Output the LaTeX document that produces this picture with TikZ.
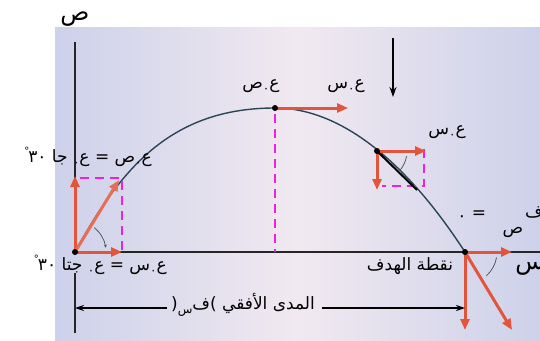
\documentclass[tikz,border=0pt]{standalone}
\usepackage{fontspec}
\TeXXeTstate=1
\newfontfamily\arabicfont[Script=Arabic]{DejaVu Sans}
\usetikzlibrary{arrows.meta,calc}
\definecolor{vred}{HTML}{E2553A}
\definecolor{dmag}{HTML}{EE22DD}
\definecolor{bgblue}{HTML}{CDD1EA}
\definecolor{bgpink}{HTML}{F1E9F0}
\definecolor{curvec}{HTML}{2A4656}
\newcommand{\lo}[1]{\raisebox{-4pt}{\fontsize{12}{12}\selectfont #1}}
\newcommand{\dg}{\raisebox{8pt}{\fontsize{10}{10}\selectfont °}\kern-1pt}
\begin{document}
\begin{tikzpicture}[x=1pt,y=-1pt,
 vec/.style={vred, line width=3pt, -{Triangle[length=11pt,width=9pt]}},
 dashm/.style={dmag, line width=2.2pt, dash pattern=on 9pt off 6pt},
 axisl/.style={draw=black!85, line width=1.5pt},
 curvel/.style={curvec, line width=1.4pt},
 angarc/.style={gray!70!black, line width=0.8pt},
 dotn/.style={circle, fill=black, inner sep=0pt, minimum size=6pt},
 lab/.style={font=\arabicfont\fontsize{17}{19}\selectfont, inner sep=1pt},
 biglab/.style={font=\arabicfont\fontsize{24}{24}\selectfont, inner sep=1pt},
 dimarrow/.style={black, line width=1.1pt, -{Stealth[length=9pt,width=6pt]}}]
\useasboundingbox (0,0) rectangle (540,340);
\fill[white] (0,0) rectangle (540,340);
\shade[left color=bgblue, right color=bgblue, middle color=bgpink] (55,27) rectangle (540,340);
% key points
\coordinate (L) at (75,252);
\coordinate (C1) at (120,170);
\coordinate (C2) at (170,108);
\coordinate (P) at (275,108);
\coordinate (M) at (377,151);
\coordinate (T) at (465,252);
% axes
\coordinate (ytop) at (75,42);
\coordinate (xend) at (545,252);
\draw[axisl] (L) -- (ytop);
\draw[axisl] (L) -- (xend);
\coordinate (e1) at (75,273);
\coordinate (e2) at (75,333);
\draw[axisl, line width=1.2pt] (e1) -- (e2);
% trajectory
\draw[curvel] (L) .. controls (C1) and (C2) .. (P) parabola (T);
% left vectors
\coordinate (Lup) at (75,176);
\coordinate (Lrt) at (122,252);
\coordinate (Ldg) at (119,180);
\coordinate (Lb1) at (80,178);
\coordinate (Lb2) at (122,178);
\coordinate (Lb3) at (122,250);
\draw[dashm] (Lb1) -- (Lb2) -- (Lb3);
\draw[vec] (L) -- (Lup);
\draw[vec] (L) -- (Lrt);
\draw[vec, vred!85] (L) -- (Ldg);
\draw[angarc, -{Stealth[length=3pt,width=3pt]}] ($(L)+(-52:31)$) arc[start angle=-52, end angle=-8, radius=31];
% peak
\coordinate (Prt) at (348,108);
\coordinate (Pbot) at (275,252);
\coordinate (Ptop) at (275,114);
\draw[dashm] (Ptop) -- (Pbot);
\draw[vec] (P) -- (Prt);
% middle
\coordinate (Mrt) at (426,151);
\coordinate (Mdn) at (377,190);
\coordinate (Mdg) at (417,190);
\coordinate (Mb1) at (424,149);
\coordinate (Mb2) at (424,186);
\coordinate (Mb3) at (382,186);
\draw[dashm] (Mb1) -- (Mb2) -- (Mb3);
\draw[vec] (M) -- (Mrt);
\draw[vec] (M) -- (Mdn);
\draw[black, line width=2pt] (M) -- (Mdg);
\draw[angarc] ($(M)+(10:30)$) arc[start angle=10, end angle=42, radius=30];
% target
\coordinate (Trt) at (512,252);
\coordinate (Tdn) at (465,330);
\coordinate (Tdg) at (512,330);
\draw[vec] (T) -- (Trt);
\draw[vec] (T) -- (Tdn);
\draw[vec] (T) -- (Tdg);
\draw[angarc] ($(T)+(10:32)$) arc[start angle=10, end angle=48, radius=32];
% dots
\node[dotn] (dL) at (L) {};
\node[dotn] (dP) at (P) {};
\node[dotn] (dM) at (M) {};
\node[dotn] (dT) at (T) {};
% gravity arrow
\coordinate (g1) at (393,38);
\coordinate (g2) at (393,97);
\draw[black, line width=1.6pt, -{Stealth[length=10pt,width=7pt]}] (g1) -- (g2);
% range
\coordinate (dl) at (75,308);
\coordinate (dr) at (465,308);
\node[lab] (dim) at (243,305) {\beginR المدى الأفقي \hbox{)}ف\lo{س}\hbox{(}\endR};
\draw[dimarrow] ([xshift=-3pt]dim.west |- dl) -- (dl);
\draw[dimarrow] ([xshift=6pt]dim.east |- dr) -- (dr);
% labels
\node[biglab] (sy) at (75,19) {ص};
\node[biglab] (sx) at (530,268) {س};
\node[lab, anchor=east] (vy) at (153,157) {\beginR ع\lo{٠}ص = ع\lo{٠} جا \beginL\dg٣٠\endL\endR};
\node[lab, anchor=east] (vx) at (168,265) {\beginR ع\lo{٠}س = ع\lo{٠} جتا \beginL\dg٣٠\endL\endR};
\node[lab] (py) at (261,86) {\beginR ع\lo{٠}ص\endR};
\node[lab] (px) at (346,86) {\beginR ع\lo{٠}س\endR};
\node[lab] (mx) at (447,132) {\beginR ع\lo{٠}س\endR};
\node[lab] (tg) at (410,266) {\beginR نقطة الهدف\endR};
\node[lab] (fz) at (462,219) {٠};
\node[lab] (feq) at (479,215) {=};
\node[lab] (fs) at (513,232) {ص};
\node[lab] (ff) at (534,212) {ف};
\end{tikzpicture}
\end{document}
